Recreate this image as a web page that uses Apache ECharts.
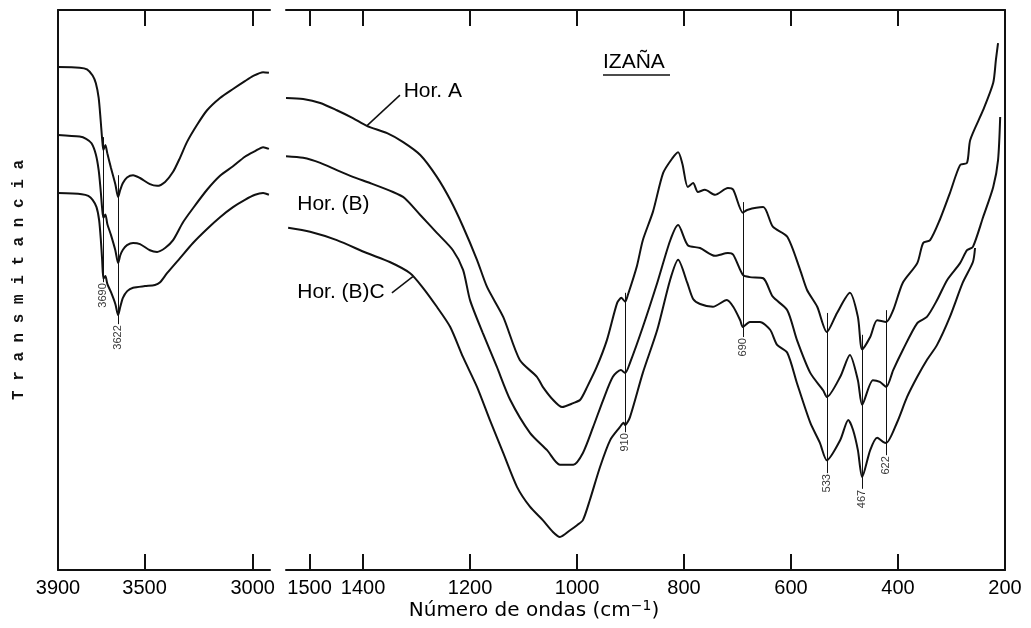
<!DOCTYPE html>
<html><head><meta charset="utf-8">
<script src="https://cdn.jsdelivr.net/npm/echarts@6/dist/echarts.min.js"></script>
<style>html,body{margin:0;padding:0;background:#fff}#c{width:1031px;height:628px}</style>
</head><body><div id="c"></div>
<script>
// ---- data: [wavenumber cm-1, relative transmittance] ----
const leftA = [[3900,89.8],[3800,89.7],[3766,89.4],[3740,88.3],[3725,86.9],[3712,84.3],[3703,80.4],[3696,77.0],[3690,75.0],[3681,75.9],[3672,74.4],[3655,71.8],[3635,68.9],[3622,66.6],[3612,67.9],[3600,69.1],[3581,70.1],[3553,70.5],[3521,70.0],[3475,68.9],[3442,68.6],[3405,69.3],[3368,71.1],[3336,73.6],[3304,76.4],[3257,79.5],[3211,82.1],[3151,84.3],[3091,85.9],[3036,87.3],[2999,88.2],[2952,88.9],[2925,88.8]];
const leftB = [[3900,77.7],[3800,77.4],[3770,77.0],[3745,76.2],[3725,74.2],[3712,71.4],[3703,67.9],[3696,64.6],[3690,62.9],[3681,63.5],[3672,61.8],[3655,59.8],[3635,57.1],[3622,54.8],[3612,56.2],[3600,57.2],[3581,58.0],[3553,58.4],[3521,58.2],[3475,57.1],[3442,56.8],[3405,57.5],[3368,58.9],[3322,62.1],[3276,64.6],[3211,67.9],[3151,70.4],[3091,72.1],[3036,73.8],[2989,74.8],[2952,75.5],[2925,75.2]];
const leftC = [[3900,67.3],[3790,67.1],[3760,66.8],[3740,66.1],[3722,64.8],[3710,62.5],[3702,59.0],[3696,55.4],[3690,52.0],[3681,52.5],[3672,51.1],[3655,49.6],[3635,47.5],[3622,45.5],[3612,47.0],[3600,48.6],[3580,49.8],[3553,50.4],[3498,50.7],[3452,50.9],[3428,51.4],[3396,53.0],[3336,55.7],[3276,58.4],[3211,60.9],[3151,63.0],[3091,64.8],[3036,66.1],[2989,67.0],[2952,67.3],[2925,67.0]];
const rightA = [[1544,84.3],[1512,84.1],[1480,83.4],[1449,82.1],[1419,80.7],[1393,79.3],[1355,78.0],[1325,76.4],[1293,74.1],[1262,70.2],[1237,66.1],[1213,61.3],[1187,55.4],[1168,50.5],[1138,45.2],[1107,37.5],[1075,34.5],[1064,32.7],[1045,30.4],[1028,29.1],[1007,29.8],[994,30.4],[981,32.7],[963,36.3],[944,41.1],[925,47.7],[917,48.6],[910,47.9],[905,49.1],[888,54.3],[877,58.9],[858,64.0],[839,70.9],[822,73.5],[811,74.6],[803,72.5],[793,68.4],[783,69.1],[774,67.5],[761,67.9],[742,67.0],[718,68.2],[708,67.9],[690,63.8],[682,64.3],[652,64.8],[634,61.3],[607,59.5],[583,53.6],[570,50.0],[551,47.0],[533,42.5],[514,45.9],[490,49.5],[475,45.2],[467,39.4],[452,41.6],[439,44.6],[422,44.3],[409,46.4],[391,51.3],[364,54.8],[353,58.4],[340,58.9],[322,62.5],[303,67.3],[284,72.3],[271,72.7],[265,76.8],[241,82.1],[222,87.0],[217,91.1],[213,94.1]];
const rightB = [[1544,73.9],[1512,73.6],[1480,72.7],[1449,71.4],[1419,70.2],[1387,69.1],[1344,67.5],[1322,66.4],[1293,63.4],[1262,60.2],[1232,57.1],[1213,53.6],[1200,48.2],[1176,42.3],[1150,36.3],[1125,30.4],[1088,24.5],[1056,21.4],[1032,18.8],[1007,18.8],[989,20.9],[970,25.5],[951,30.4],[933,34.5],[918,35.7],[910,35.2],[901,37.0],[877,43.4],[850,51.3],[826,58.8],[811,61.6],[793,58.0],[770,57.5],[742,56.1],[718,56.6],[708,56.3],[690,52.7],[677,52.3],[652,52.1],[634,48.8],[607,46.4],[589,41.1],[564,35.2],[540,32.1],[533,30.9],[508,34.5],[490,38.4],[475,33.9],[467,29.5],[447,33.9],[434,33.6],[422,32.7],[409,35.7],[391,39.3],[364,44.1],[346,45.2],[327,48.2],[308,51.8],[284,54.8],[271,57.1],[260,57.7],[241,63.0],[222,68.4],[213,73.2],[209,80.9]];
const rightC = [[1540,61.1],[1499,60.4],[1449,58.9],[1393,56.6],[1350,55.0],[1312,53.0],[1288,50.4],[1262,47.0],[1237,43.4],[1213,38.0],[1187,32.7],[1163,26.8],[1138,20.9],[1112,14.8],[1088,11.3],[1064,8.9],[1045,6.8],[1032,5.9],[1013,7.1],[1000,8.0],[989,8.9],[976,12.5],[957,18.4],[938,23.2],[920,25.5],[913,26.3],[910,25.9],[901,27.3],[877,35.2],[850,42.9],[826,51.8],[811,55.4],[794,51.3],[783,48.4],[770,47.5],[746,47.0],[720,48.2],[708,47.0],[695,44.6],[690,43.4],[677,44.3],[658,44.3],[639,42.9],[626,40.2],[607,38.8],[589,33.4],[564,26.3],[546,22.7],[533,19.6],[508,23.2],[493,26.8],[484,25.0],[475,21.4],[467,16.6],[452,21.4],[439,23.6],[428,22.9],[422,22.7],[402,26.3],[383,30.9],[364,34.5],[346,37.5],[327,40.2],[303,45.2],[279,51.3],[260,55.0],[256,57.5]];

const leftTicks = [3500, 3000];
const leftTickLabels = [3900, 3500, 3000];
const rightTicks = [1500, 1400, 1200, 1000, 800, 600, 400];
const rightTickLabels = [1500, 1400, 1200, 1000, 800, 600, 400, 200];

const leftPeaks = [3690, 3622];
const leftPeakNames = ['3690', '3622'];
const leftPeakTop = [77.3, 70.5];
const leftPeakBottom = [51.4, 43.9];
const rightPeaks = [910, 690, 533, 467, 422];
const rightPeakNames = ['910', '690', '533', '467', '622'];
const rightPeakTop = [49.5, 65.7, 45.9, 42.0, 46.4];
const rightPeakBottom = [24.6, 41.6, 17.3, 14.5, 20.5];

const horizonNames = ['Hor. A', 'Hor. (B)', 'Hor. (B)C'];
const horizonLabelAt = [[1324, 85.5], [1523, 65.4], [1523, 49.6]];
const leaderLines = [[[1393, 79.3], [1331, 84.8]], [[1307, 52.4], [1346, 49.5]]];

// ---- chart ----
const ink = '#111';
const sans = '"Liberation Sans", Arial, sans-serif';
function xAx(grid, min, max, pos, ticks, labels) {
  return {
    type: 'value', gridIndex: grid, min: min, max: max, inverse: true, position: pos,
    axisLine: { show: true, onZero: false, lineStyle: { color: ink, width: 2 } },
    axisTick: { show: true, inside: true, length: 16, customValues: ticks, lineStyle: { color: ink, width: 2 } },
    axisLabel: labels ? { show: true, customValues: labels, formatter: v => String(v), color: '#000', fontSize: 20, fontFamily: sans, margin: 8 } : { show: false },
    splitLine: { show: false }
  };
}
function yAx(grid, pos) {
  return {
    type: 'value', gridIndex: grid, min: 0, max: 100, position: pos,
    axisLine: { show: true, onZero: false, lineStyle: { color: ink, width: 2 } },
    axisTick: { show: false }, axisLabel: { show: false }, splitLine: { show: false }
  };
}
function curve(data, xi, yi, extra) {
  return Object.assign({
    type: 'line', data: data, xAxisIndex: xi, yAxisIndex: yi, symbol: 'none', smooth: 0.25,
    lineStyle: { color: ink, width: 2 }, silent: true
  }, extra || {});
}
function peakMarks(peaks, top, bottom) {
  return {
    silent: true, symbol: ['none', 'none'], label: { show: false },
    lineStyle: { color: ink, width: 1, type: 'solid' },
    data: peaks.map((w, i) => [{ coord: [w, top[i]] }, { coord: [w, bottom[i]] }])
  };
}
function peakLabels(peaks, names, bottom, xi, yi) {
  return {
    type: 'scatter', xAxisIndex: xi, yAxisIndex: yi, symbolSize: 0, silent: true,
    itemStyle: { color: '#000' },
    data: peaks.map((w, i) => ({ name: names[i], value: [w, bottom[i]] })),
    label: {
      show: true, position: 'inside', rotate: 90, align: 'right', verticalAlign: 'middle',
      formatter: p => p.name, fontSize: 11, color: '#000', padding: [0, 1, 0, 0],
      fontFamily: '"Liberation Sans Narrow", "Liberation Sans", sans-serif'
    }
  };
}

const option = {
  animation: false,
  backgroundColor: '#fff',
  grid: [
    { left: 58, top: 10, width: 212, height: 560 },
    { left: 286, top: 10, width: 719, height: 560 }
  ],
  xAxis: [
    xAx(0, 2920, 3900, 'bottom', leftTicks, leftTickLabels),
    xAx(0, 2920, 3900, 'top', leftTicks, null),
    xAx(1, 200, 1544, 'bottom', rightTicks, rightTickLabels),
    xAx(1, 200, 1544, 'top', rightTicks, null)
  ],
  yAxis: [yAx(0, 'left'), yAx(1, 'right')],
  series: [
    curve(leftA, 0, 0),
    curve(leftB, 0, 0),
    curve(leftC, 0, 0, { markLine: peakMarks(leftPeaks, leftPeakTop, leftPeakBottom) }),
    curve(rightA, 2, 1),
    curve(rightB, 2, 1),
    curve(rightC, 2, 1, { markLine: peakMarks(rightPeaks, rightPeakTop, rightPeakBottom) }),
    peakLabels(leftPeaks, leftPeakNames, leftPeakBottom, 0, 0),
    peakLabels(rightPeaks, rightPeakNames, rightPeakBottom, 2, 1),
    {
      type: 'scatter', xAxisIndex: 2, yAxisIndex: 1, symbolSize: 0, silent: true,
      itemStyle: { color: '#000' },
      data: horizonNames.map((n, i) => ({ name: n, value: horizonLabelAt[i] })),
      label: { show: true, position: 'right', distance: 0, formatter: p => p.name, fontSize: 21, color: '#000', opacity: 1, fontFamily: sans },
      markLine: {
        silent: true, symbol: ['none', 'none'], label: { show: false },
        lineStyle: { color: ink, width: 1.5, type: 'solid' },
        data: leaderLines.map(l => [{ coord: l[0] }, { coord: l[1] }])
      }
    }
  ],
  graphic: [
    { type: 'text', left: 603, top: 52, style: { text: 'IZAÑA', fontSize: 21, fill: '#000', fontFamily: sans } },
    { type: 'line', shape: { x1: 603, y1: 75, x2: 670, y2: 75 }, style: { stroke: ink, lineWidth: 1.5 } },
    { type: 'text', x: 534, y: 611, style: {
        text: 'Número de ondas (cm{sup|−1})', fontSize: 20, fill: '#000', fontFamily: '"DejaVu Sans", sans-serif',
        align: 'center', verticalAlign: 'middle',
        rich: { sup: { fontSize: 14, verticalAlign: 'top', padding: [0, 0, 10, 0], fontFamily: '"DejaVu Sans", sans-serif', fill: '#000' } }
    } },
    { type: 'text', x: 19, y: 280, rotation: Math.PI / 2, style: {
        text: 'T r a n s m i t a n c i a', fontSize: 16, fill: '#111', fontFamily: '"Liberation Mono", monospace',
        align: 'center', verticalAlign: 'middle', fontWeight: 'bold'
    } }
  ]
};
const chart = echarts.init(document.getElementById('c'));
chart.setOption(option);
</script>
</body></html>
